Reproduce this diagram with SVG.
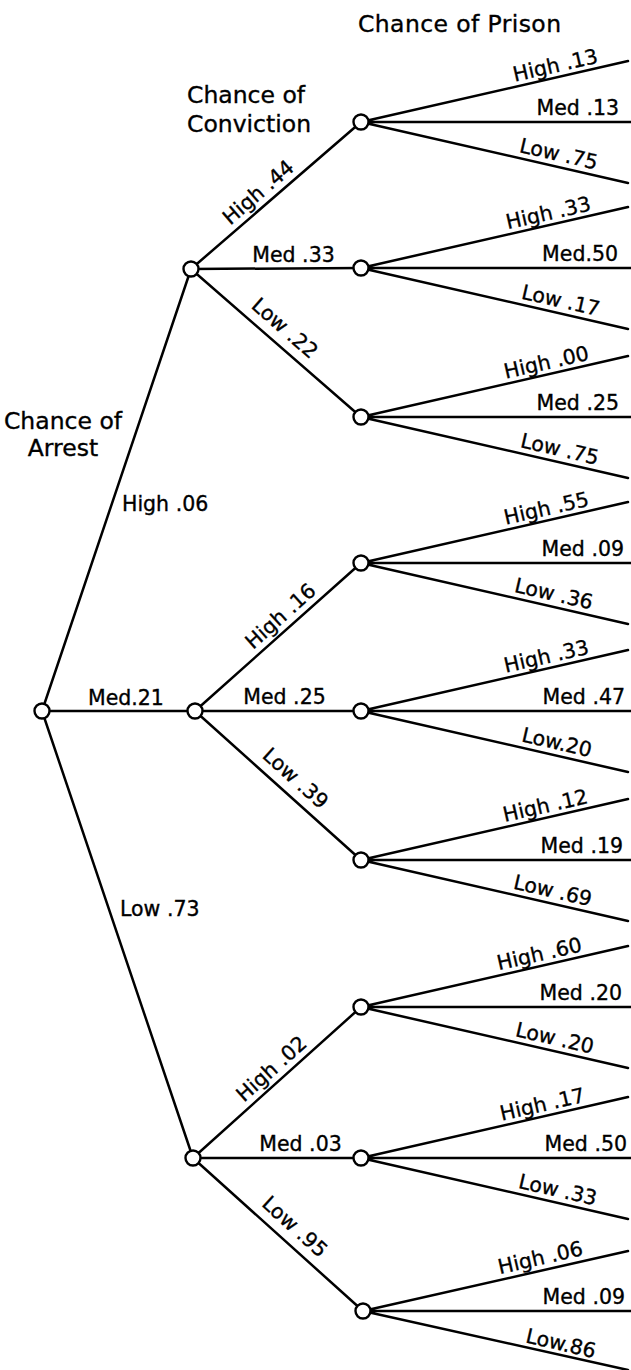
<svg xmlns="http://www.w3.org/2000/svg" width="631" height="1370" viewBox="0 0 631 1370">
<style>
.c{stroke:#000;stroke-width:2.5;fill:none;stroke-linecap:round}
.n{fill:#fff;stroke:#000;stroke-width:2.4}
text{font-family:"DejaVu Sans","Liberation Sans",sans-serif;fill:#000;stroke:#000;stroke-width:0.35}
.t{font-size:23.5px}
.l{font-size:20.5px}
.m{text-anchor:middle}
.e{text-anchor:end}
</style>
<rect width="631" height="1370" fill="#fff"/>
<g id="titles">
<text class="t" x="358" y="32" letter-spacing="0.4">Chance of Prison</text>
<text class="t" x="187" y="103">Chance of</text>
<text class="t" x="187" y="132">Conviction</text>
<text class="t m" x="63" y="429">Chance of</text>
<text class="t m" x="63" y="456">Arrest</text>
</g>
<g id="connectors">
<path class="c" d="M42,711 L191,269 M42,711 L195,711 M42,711 L193,1158"/>
<path class="c" d="M191,269 L361,122 M191,269 L361,268 M191,269 L361,417"/>
<path class="c" d="M195,711 L361,563 M195,711 L361,711 M195,711 L361,860"/>
<path class="c" d="M193,1158 L361,1007 M193,1158 L361,1158 M193,1158 L363,1311"/>
<path class="c" d="M361,122 L628,61 M361,122 L631,122 M361,122 L628,183"/>
<path class="c" d="M361,268 L628,207 M361,268 L631,268 M361,268 L628,329"/>
<path class="c" d="M361,417 L628,356 M361,417 L631,417 M361,417 L628,478"/>
<path class="c" d="M361,563 L628,502 M361,563 L631,563 M361,563 L628,624"/>
<path class="c" d="M361,711 L628,650 M361,711 L631,711 M361,711 L628,772"/>
<path class="c" d="M361,860 L628,799 M361,860 L631,860 M361,860 L628,921"/>
<path class="c" d="M361,1007 L628,946 M361,1007 L631,1007 M361,1007 L628,1068"/>
<path class="c" d="M361,1158 L628,1097 M361,1158 L631,1158 M361,1158 L628,1219"/>
<path class="c" d="M363,1311 L628,1251 M363,1311 L631,1311 M363,1311 L628,1370"/>
</g>
<g id="labels">
<text class="l" x="122" y="511">High .06</text>
<text class="l" x="88" y="705">Med.21</text>
<text class="l" x="120" y="916">Low .73</text>
<text class="l m" transform="translate(267.4,202.9) rotate(-40.85)" x="0" y="-7">High .44</text>
<text class="l m" x="293.5" y="262">Med .33</text>
<text class="l m" transform="translate(273.7,341) rotate(41.04)" x="0" y="-10">Low .22</text>
<text class="l m" transform="translate(289.8,626.5) rotate(-41.72)" x="0" y="-7">High .16</text>
<text class="l m" x="284.5" y="704">Med .25</text>
<text class="l m" transform="translate(284.1,790.9) rotate(41.9)" x="0" y="-10">Low .39</text>
<text class="l m" transform="translate(280.8,1079.1) rotate(-41.95)" x="0" y="-7">High .02</text>
<text class="l m" x="300.5" y="1151">Med .03</text>
<text class="l m" transform="translate(283.5,1239.4) rotate(41.99)" x="0" y="-10">Low .95</text>
<text class="l m" transform="translate(558,77) rotate(-12.87)" y="-5">High .13</text>
<text class="l e" x="619" y="115">Med .13</text>
<text class="l m" transform="translate(556,166.6) rotate(12.87)" y="-6">Low .75</text>
<text class="l m" transform="translate(551,224.6) rotate(-12.87)" y="-5">High .33</text>
<text class="l e" x="618" y="261">Med.50</text>
<text class="l m" transform="translate(558,313.1) rotate(12.87)" y="-6">Low .17</text>
<text class="l m" transform="translate(549,374) rotate(-12.87)" y="-5">High .00</text>
<text class="l e" x="619" y="410">Med .25</text>
<text class="l m" transform="translate(557,461.8) rotate(12.87)" y="-6">Low .75</text>
<text class="l m" transform="translate(549,520) rotate(-12.87)" y="-5">High .55</text>
<text class="l e" x="624" y="556">Med .09</text>
<text class="l m" transform="translate(551,606.5) rotate(12.87)" y="-6">Low .36</text>
<text class="l m" transform="translate(549,668) rotate(-12.87)" y="-5">High .33</text>
<text class="l e" x="625" y="704">Med .47</text>
<text class="l m" transform="translate(554,755.1) rotate(12.87)" y="-6">Low.20</text>
<text class="l m" transform="translate(548,817.3) rotate(-12.87)" y="-5">High .12</text>
<text class="l e" x="623" y="853">Med .19</text>
<text class="l m" transform="translate(550,903.2) rotate(12.87)" y="-6">Low .69</text>
<text class="l m" transform="translate(542,965.6) rotate(-12.87)" y="-5">High .60</text>
<text class="l e" x="622" y="1000">Med .20</text>
<text class="l m" transform="translate(552,1050.7) rotate(12.87)" y="-6">Low .20</text>
<text class="l m" transform="translate(545,1116) rotate(-12.87)" y="-5">High .17</text>
<text class="l e" x="627" y="1151">Med .50</text>
<text class="l m" transform="translate(555,1202.4) rotate(12.87)" y="-6">Low .33</text>
<text class="l m" transform="translate(543,1269.4) rotate(-12.87)" y="-5">High .06</text>
<text class="l e" x="625" y="1304">Med .09</text>
<text class="l m" transform="translate(558,1356.1) rotate(12.87)" y="-6">Low.86</text>
</g>
<g id="node-root"><circle class="n" cx="42" cy="711" r="7.5"/></g>
<g id="node-arrest-high"><circle class="n" cx="191" cy="269" r="7.5"/></g>
<g id="node-arrest-med"><circle class="n" cx="195" cy="711" r="7.5"/></g>
<g id="node-arrest-low"><circle class="n" cx="193" cy="1158" r="7.5"/></g>
<g id="node-hh"><circle class="n" cx="361" cy="122" r="7.5"/></g>
<g id="node-hm"><circle class="n" cx="361" cy="268" r="7.5"/></g>
<g id="node-hl"><circle class="n" cx="361" cy="417" r="7.5"/></g>
<g id="node-mh"><circle class="n" cx="361" cy="563" r="7.5"/></g>
<g id="node-mm"><circle class="n" cx="361" cy="711" r="7.5"/></g>
<g id="node-ml"><circle class="n" cx="361" cy="860" r="7.5"/></g>
<g id="node-lh"><circle class="n" cx="361" cy="1007" r="7.5"/></g>
<g id="node-lm"><circle class="n" cx="361" cy="1158" r="7.5"/></g>
<g id="node-ll"><circle class="n" cx="363" cy="1311" r="7.5"/></g>
</svg>
